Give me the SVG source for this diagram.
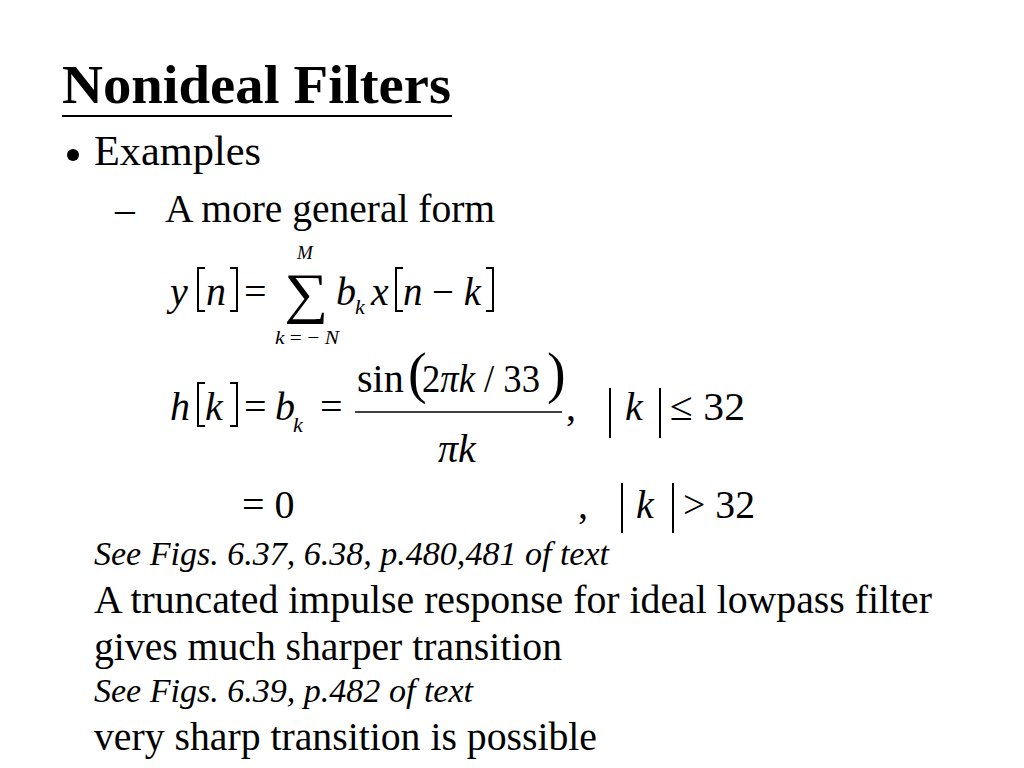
<svg xmlns="http://www.w3.org/2000/svg" width="1024" height="768" viewBox="0 0 1024 768">
<style>
text{font-family:"Liberation Serif","Times New Roman",serif;fill:#000}
.b{font-size:39.5px}
.e{font-size:40px}
.i{font-style:italic}
.s{font-size:22px}
.ln{stroke:#000;stroke-width:2;fill:none}
</style>
<rect width="1024" height="768" fill="#fff"/>
<g id="title">
<text x="62" y="103" font-size="54" font-weight="bold" textLength="389" lengthAdjust="spacingAndGlyphs">Nonideal Filters</text>
<line x1="62" y1="116" x2="452" y2="116" stroke="#000" stroke-width="2"/>
</g>
<g id="bullets">
<circle cx="73" cy="155" r="6"/>
<text x="94" y="165" font-size="43" textLength="167" lengthAdjust="spacingAndGlyphs">Examples</text>
<text x="115" y="222" class="b">–</text>
<text x="165" y="222" class="b" textLength="330" lengthAdjust="spacingAndGlyphs">A more general form</text>
</g>
<g id="eq1">
<text x="170" y="305" class="e i">y</text>
<path class="ln" d="M205,268 H198 V311 H205 M230,268 H237 V311 H230"/>
<text x="206" y="305" class="e i">n</text>
<text x="244" y="305" class="e">=</text>
<text x="284" y="312" font-size="56" textLength="44" lengthAdjust="spacingAndGlyphs">∑</text>
<text x="297" y="259" font-size="19" class="i">M</text>
<text x="275" y="344" font-size="19" textLength="64" lengthAdjust="spacingAndGlyphs"><tspan class="i">k</tspan> = − <tspan class="i">N</tspan></text>
<text x="336" y="305" class="e i">b</text>
<text x="355" y="314" class="s i">k</text>
<text x="371" y="305" class="e i">x</text>
<path class="ln" d="M403,268 H396 V311 H403 M486,268 H493 V311 H486"/>
<text x="403" y="305" class="e" textLength="78" lengthAdjust="spacingAndGlyphs"><tspan class="i">n</tspan> − <tspan class="i">k</tspan></text>
</g>
<g id="eq2">
<text x="170" y="420" class="e i">h</text>
<path class="ln" d="M205,383 H198 V426 H205 M230,383 H237 V426 H230"/>
<text x="205" y="420" class="e i">k</text>
<text x="244" y="420" class="e">=</text>
<text x="275" y="420" class="e i">b</text>
<text x="293" y="432" class="s i">k</text>
<text x="320" y="420" class="e">=</text>
<line x1="355" y1="412" x2="562" y2="412" stroke="#000" stroke-width="1.5"/>
<text x="357" y="392" class="e">sin</text>
<text x="408" y="392" font-size="56">(</text>
<text x="422" y="392" class="e" textLength="118" lengthAdjust="spacingAndGlyphs">2<tspan class="i">πk</tspan> / 33</text>
<text x="547" y="392" font-size="56">)</text>
<text x="438" y="462" class="e i">πk</text>
<text x="566" y="420" class="e">,</text>
<line class="ln" x1="610" y1="388" x2="610" y2="438"/>
<text x="625" y="420" class="e i">k</text>
<line class="ln" x1="660" y1="388" x2="660" y2="438"/>
<text x="670" y="420" class="e" textLength="75" lengthAdjust="spacingAndGlyphs">≤ 32</text>
</g>
<g id="eq3">
<text x="242" y="518" class="e">= 0</text>
<text x="578" y="518" class="e">,</text>
<line class="ln" x1="622" y1="483" x2="622" y2="533"/>
<text x="636" y="518" class="e i">k</text>
<line class="ln" x1="673" y1="483" x2="673" y2="533"/>
<text x="683" y="518" class="e" textLength="72" lengthAdjust="spacingAndGlyphs">&gt; 32</text>
</g>
<g id="body">
<text x="94" y="565" font-size="33" class="i" textLength="515" lengthAdjust="spacingAndGlyphs">See Figs. 6.37, 6.38, p.480,481 of text</text>
<text x="94" y="613" class="b" textLength="838" lengthAdjust="spacingAndGlyphs">A truncated impulse response for ideal lowpass filter</text>
<text x="94" y="660" class="b" textLength="468" lengthAdjust="spacingAndGlyphs">gives much sharper transition</text>
<text x="94" y="702" font-size="33" class="i" textLength="379" lengthAdjust="spacingAndGlyphs">See Figs. 6.39, p.482 of text</text>
<text x="94" y="750" class="b" textLength="503" lengthAdjust="spacingAndGlyphs">very sharp transition is possible</text>
</g>
</svg>
